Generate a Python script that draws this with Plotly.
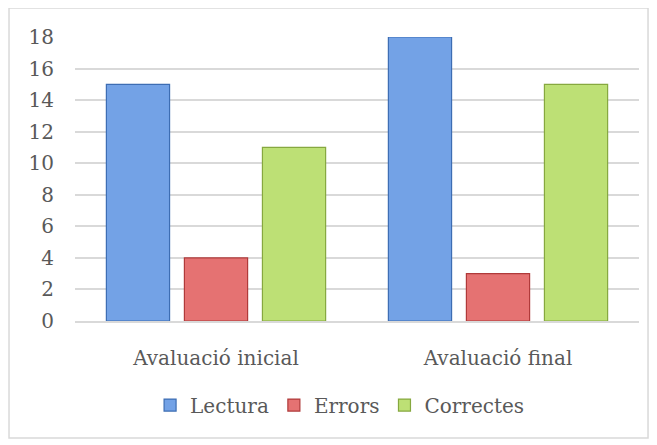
import plotly.graph_objects as go

categories = ["Avaluació inicial", "Avaluació final"]
series_names = ["Lectura", "Errors", "Correctes"]
lectura = [15, 18]
errors = [4, 3]
correctes = [11, 15]
y_ticks = [0, 2, 4, 6, 8, 10, 12, 14, 16, 18]

colors = ["#73A2E6", "#E57272", "#BDE075"]
edges = ["#3D6DB3", "#B03A3A", "#86A83F"]

FONT = "DejaVu Serif"
TXT = "#595959"

fig = go.Figure()
for name, vals, c, e in zip(series_names, [lectura, errors, correctes], colors, edges):
    fig.add_trace(go.Bar(
        x=categories, y=vals, name=name,
        marker=dict(color=c, line=dict(color=e, width=1.2)),
    ))

fig.update_layout(
    width=649, height=437,
    margin=dict(l=67, r=18, t=29, b=124),
    paper_bgcolor="white", plot_bgcolor="white",
    barmode="group", bargap=0.17, bargroupgap=0.19,
    font=dict(family=FONT, size=20, color=TXT),
    showlegend=True,
    legend=dict(orientation="h", x=0.47, xanchor="center", y=-0.296, yanchor="middle",
                font=dict(family=FONT, size=20, color=TXT), itemwidth=30,
                traceorder="normal"),
    shapes=[dict(type="rect", xref="paper", yref="paper",
                 x0=-0.117, x1=1.016, y0=-0.412, y1=1.102,
                 line=dict(color="#D9D9D9", width=1.5), fillcolor="rgba(0,0,0,0)", layer="below")],
)
fig.update_yaxes(range=[0, 18], tickvals=y_ticks, showgrid=True, gridcolor="#D9D9D9", gridwidth=1.5,
                 zeroline=False, showline=False, ticks="", ticklabelstandoff=20,
                 tickfont=dict(family=FONT, size=20, color=TXT))
fig.update_xaxes(showline=True, linecolor="#D9D9D9", linewidth=1.5, ticks="", ticklabelstandoff=18,
                 tickfont=dict(family=FONT, size=20, color=TXT))

fig.write_html("out.html")
